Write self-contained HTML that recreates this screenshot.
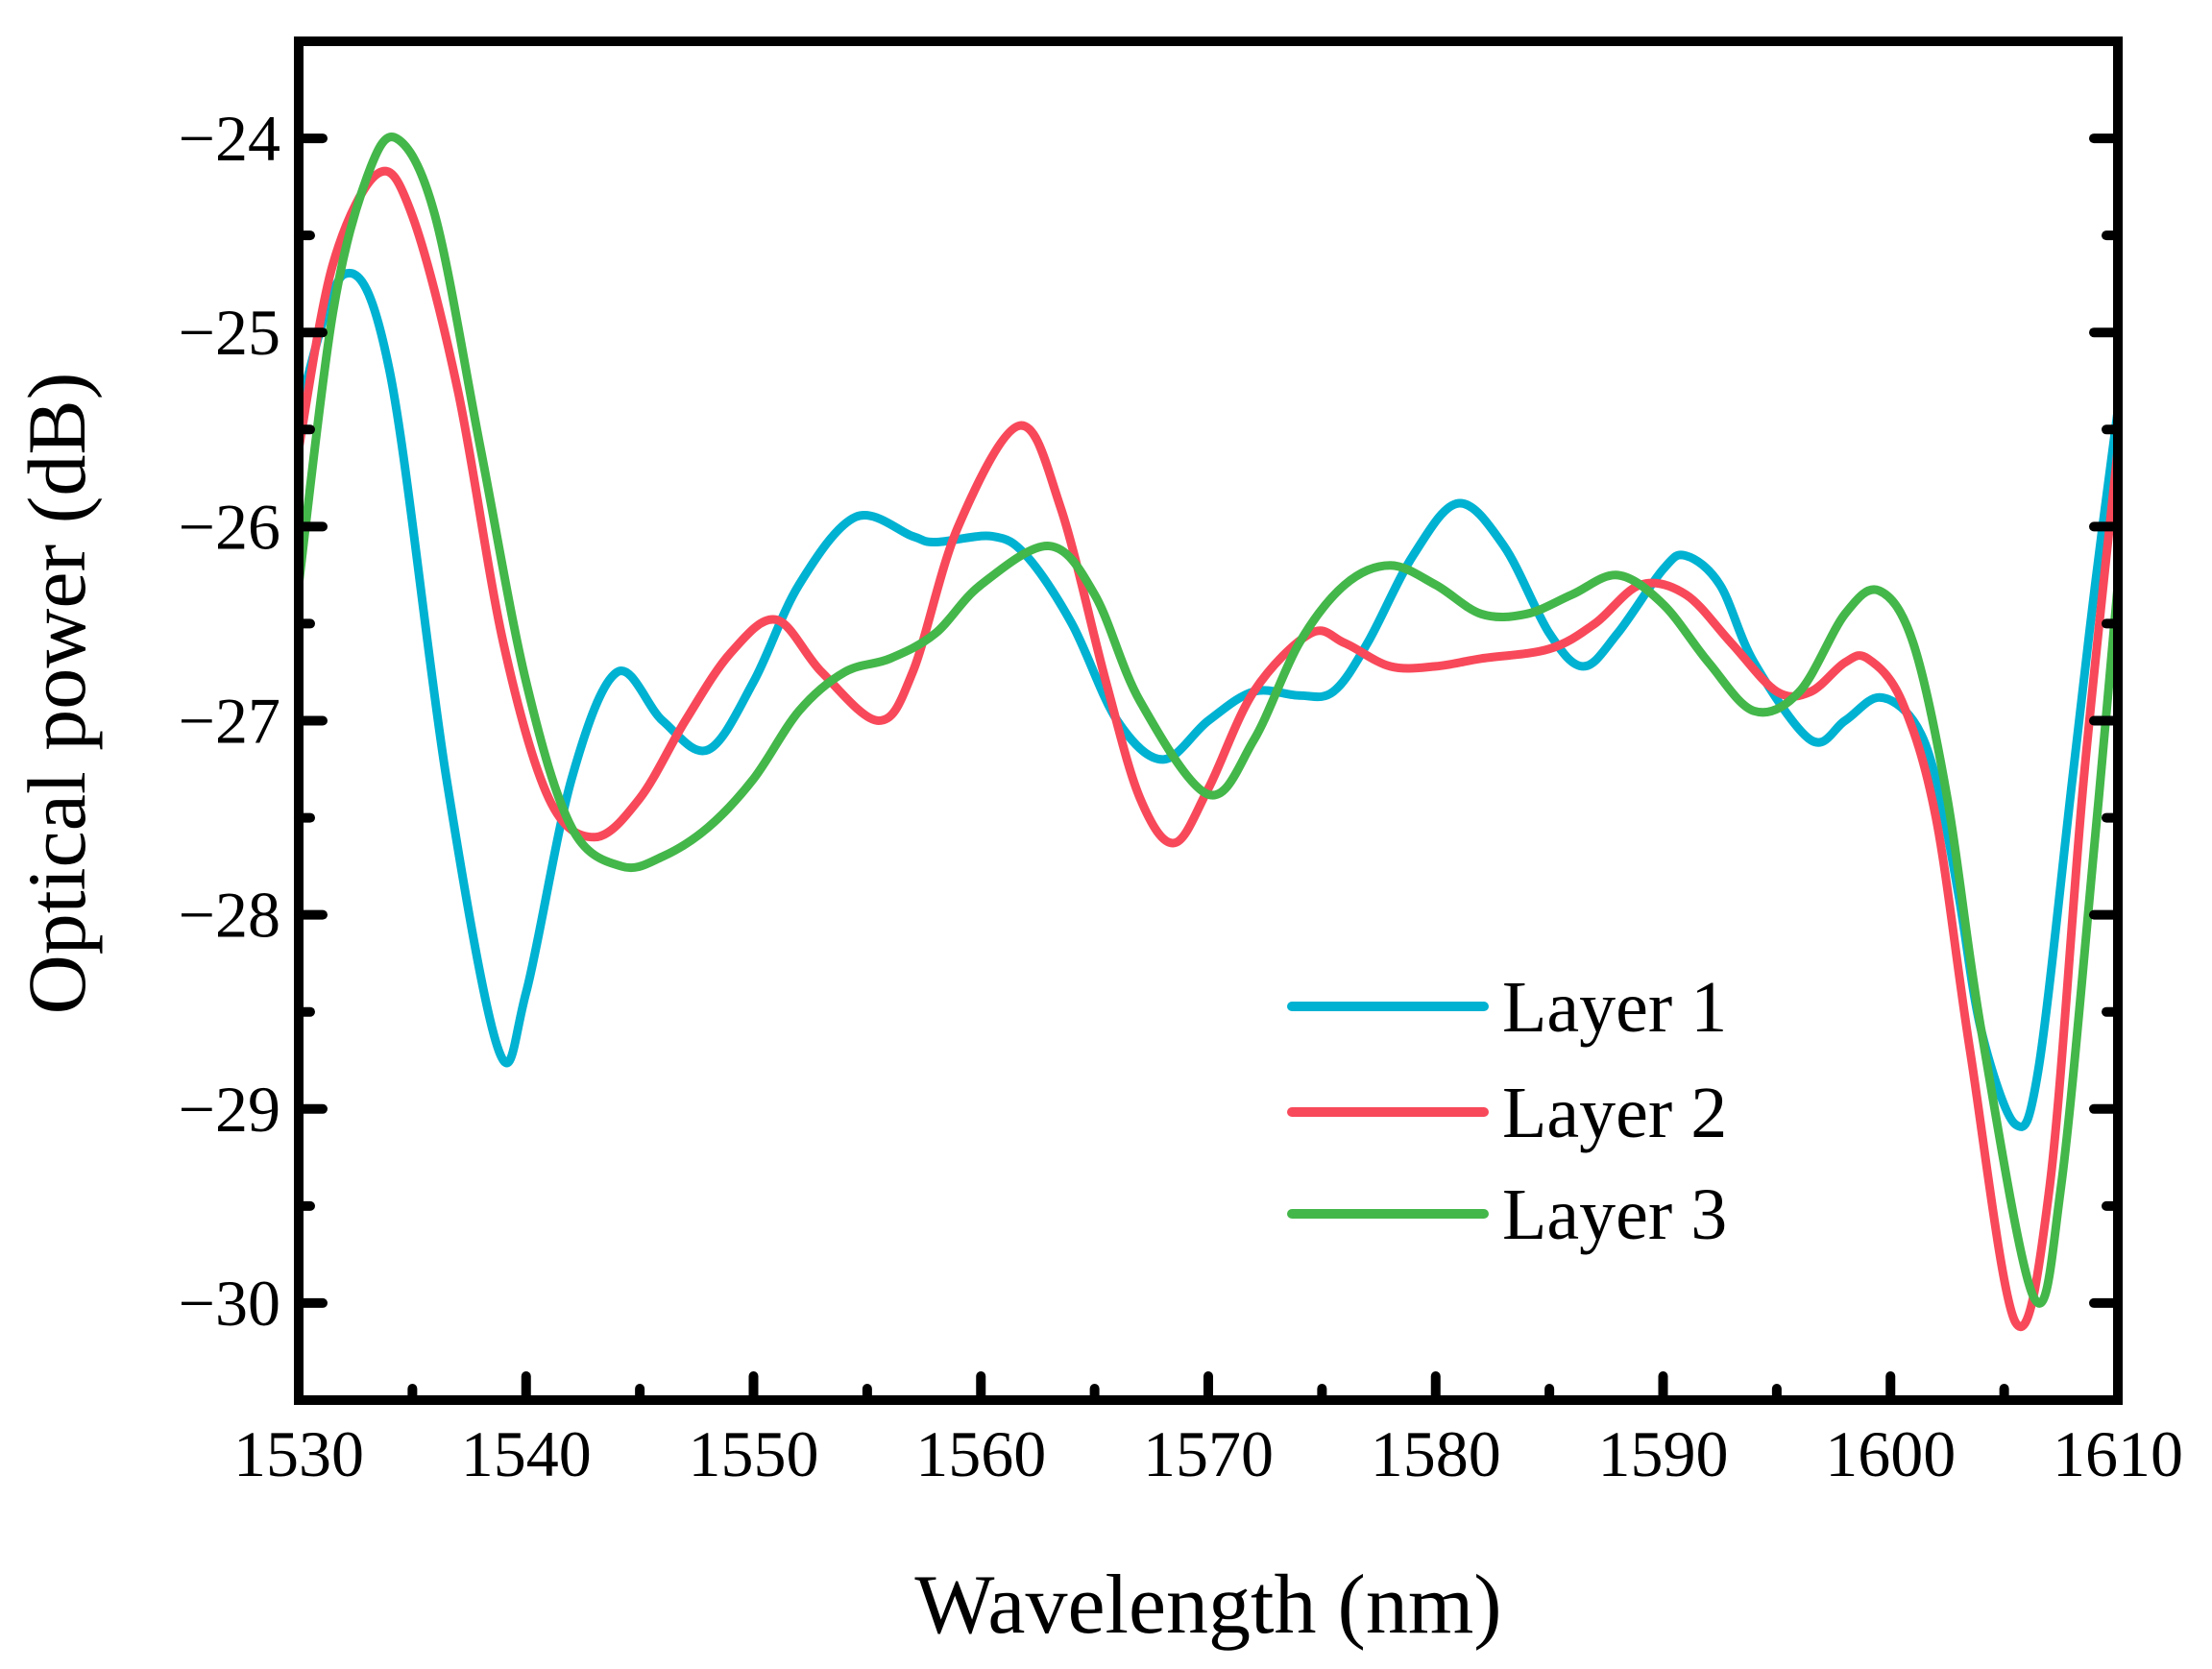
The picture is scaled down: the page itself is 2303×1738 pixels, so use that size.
<!DOCTYPE html>
<html><head><meta charset="utf-8"><style>
html,body{margin:0;padding:0;background:#fff;}
svg{display:block;font-family:"Liberation Serif",serif;}
</style></head><body>
<svg id="chart" width="2303" height="1738" viewBox="0 0 2303 1738">
<g id="plot"></g>
<g id="axes"></g>
<text x="1258" y="1700" font-size="88" text-anchor="middle">Wavelength (nm)</text>
<text transform="translate(88,722) rotate(-90)" font-size="86" text-anchor="middle">Optical power (dB)</text>
<g id="legend"></g>
</svg>
<script>
const xTicks=[1530,1540,1550,1560,1570,1580,1590,1600,1610];
const yTicks=[-24,-25,-26,-27,-28,-29,-30];
const seriesNames=["Layer 1","Layer 2","Layer 3"];
const seriesColors=["#00B2D2","#F8495A","#44B74A"];
const l1x=[1530,1532,1534,1536.5,1538.8,1540,1542,1544,1546,1548,1550,1552,1554.5,1557,1558,1560.5,1562,1564,1566,1568,1570,1572,1574,1575.5,1577,1579,1581,1583,1585,1586.5,1588,1590,1591,1592.5,1594,1596.5,1598,1599.5,1601,1602,1603,1604,1605.5,1606.5,1608,1609,1610];
const l1y=[-25.4,-24.7,-25.2,-27.3,-28.7,-28.4,-27.3,-26.75,-27.0,-27.15,-26.8,-26.3,-25.95,-26.05,-26.08,-26.05,-26.15,-26.5,-27.0,-27.2,-27.0,-26.85,-26.87,-26.85,-26.6,-26.15,-25.88,-26.1,-26.55,-26.72,-26.55,-26.22,-26.15,-26.3,-26.7,-27.1,-27.0,-26.88,-27.0,-27.3,-27.9,-28.6,-29.08,-28.8,-27.3,-26.3,-25.4];
const l2x=[1530,1531.5,1533.5,1535,1537,1539,1541,1543,1545,1547,1549,1551,1553,1555.5,1557,1559,1561.7,1563.5,1565.5,1567,1568.5,1570,1572,1574.5,1576,1578,1580,1582,1585,1587,1589,1591,1593,1595,1596.5,1598,1599,1600.5,1602,1603.5,1605.5,1607,1608.5,1610];
const l2y=[-25.6,-24.65,-24.18,-24.4,-25.3,-26.6,-27.4,-27.6,-27.4,-27.0,-26.65,-26.48,-26.75,-27.0,-26.75,-26.0,-25.48,-25.9,-26.8,-27.4,-27.63,-27.35,-26.85,-26.55,-26.6,-26.72,-26.72,-26.68,-26.63,-26.5,-26.3,-26.35,-26.6,-26.85,-26.85,-26.7,-26.68,-26.9,-27.5,-28.7,-30.1,-29.4,-27.3,-25.6];
const l3x=[1530,1531.5,1533,1534.3,1536,1538,1540,1542,1544.2,1546,1548,1550,1552,1554,1556,1558,1560,1563,1565,1567,1570,1572,1574,1576,1578,1580,1582,1584,1586,1588,1590,1592,1594,1596,1598,1599.5,1601,1602.5,1604,1606.3,1607.5,1609,1610];
const l3y=[-26.3,-24.9,-24.2,-24.0,-24.4,-25.6,-26.8,-27.55,-27.75,-27.7,-27.55,-27.3,-26.95,-26.75,-26.68,-26.55,-26.3,-26.1,-26.35,-26.9,-27.38,-27.1,-26.6,-26.3,-26.2,-26.3,-26.45,-26.45,-26.35,-26.25,-26.4,-26.7,-26.95,-26.85,-26.45,-26.33,-26.6,-27.4,-28.6,-29.97,-29.4,-27.6,-26.3];

const X0=311,X1=2205,Y0=43,Y1=1458,XMIN=1530,XMAX=1610,YMIN=-30.5,YMAX=-23.5;
const sx=v=>X0+(v-XMIN)/(XMAX-XMIN)*(X1-X0);
const sy=v=>Y1-(v-YMIN)/(YMAX-YMIN)*(Y1-Y0);
const NS="http://www.w3.org/2000/svg";
function mk(tag,attrs,parent){const e=document.createElementNS(NS,tag);for(const k in attrs)e.setAttribute(k,attrs[k]);parent.appendChild(e);return e;}
function pathFor(xs,ys){const p=xs.map((x,i)=>[sx(x),sy(ys[i])]);let d="M"+p[0][0]+","+p[0][1];
for(let i=0;i<p.length-1;i++){const a=p[Math.max(0,i-1)],b=p[i],c=p[i+1],e=p[Math.min(p.length-1,i+2)];
const c1=[b[0]+(c[0]-a[0])/6,b[1]+(c[1]-a[1])/6],c2=[c[0]-(e[0]-b[0])/6,c[1]-(e[1]-b[1])/6];
d+=" C"+c1[0]+","+c1[1]+" "+c2[0]+","+c2[1]+" "+c[0]+","+c[1];}return d;}
const plot=document.getElementById('plot');
const cp=mk('clipPath',{id:'cp'},plot);mk('rect',{x:X0,y:Y0,width:X1-X0,height:Y1-Y0},cp);
const data=[[l1x,l1y],[l2x,l2y],[l3x,l3y]];
const sNames=['series-layer-1','series-layer-2','series-layer-3'];
data.forEach((s,i)=>{const p=mk('path',{d:pathFor(s[0],s[1]),fill:'none',stroke:seriesColors[i],'stroke-width':9,'stroke-linejoin':'round','clip-path':'url(#cp)'},plot);

});
const axes=document.getElementById('axes');
const frame=mk('rect',{x:X0,y:Y0,width:X1-X0,height:Y1-Y0,fill:'none',stroke:'#000','stroke-width':10},axes);


for(let v=XMIN;v<=XMAX;v+=5){const major=(v%10===0);const x=sx(v);
const t=mk('line',{x1:x,y1:Y1,x2:x,y2:Y1-(major?25:12),stroke:'#000','stroke-width':10,'stroke-linecap':'round'},axes);

}
xTicks.forEach(v=>{const t=mk('text',{x:sx(v),y:1537,'font-size':68,'text-anchor':'middle'},axes);t.textContent=v;

});
for(let v=-30;v<=-23.5;v+=0.5){const major=Number.isInteger(v);const y=sy(v);
[[X0,X0+(major?25:12)],[X1,X1-(major?25:12)]].forEach(([a,b])=>{const t=mk('line',{x1:a,y1:y,x2:b,y2:y,stroke:'#000','stroke-width':10,'stroke-linecap':'round'},axes);

});}
yTicks.forEach(v=>{const t=mk('text',{x:292,y:sy(v)+23,'font-size':68,'text-anchor':'end'},axes);t.textContent='\u2212'+Math.abs(v);

});
const lg=document.getElementById('legend');
const ly=[1048,1158,1264];
seriesNames.forEach((n,i)=>{const g=mk('g',{},lg);


mk('line',{x1:1345,y1:ly[i],x2:1545,y2:ly[i],stroke:seriesColors[i],'stroke-width':10,'stroke-linecap':'round'},g);
const t=mk('text',{x:1564,y:ly[i]+26,'font-size':76},g);t.textContent=n;});
</script>
</body></html>
